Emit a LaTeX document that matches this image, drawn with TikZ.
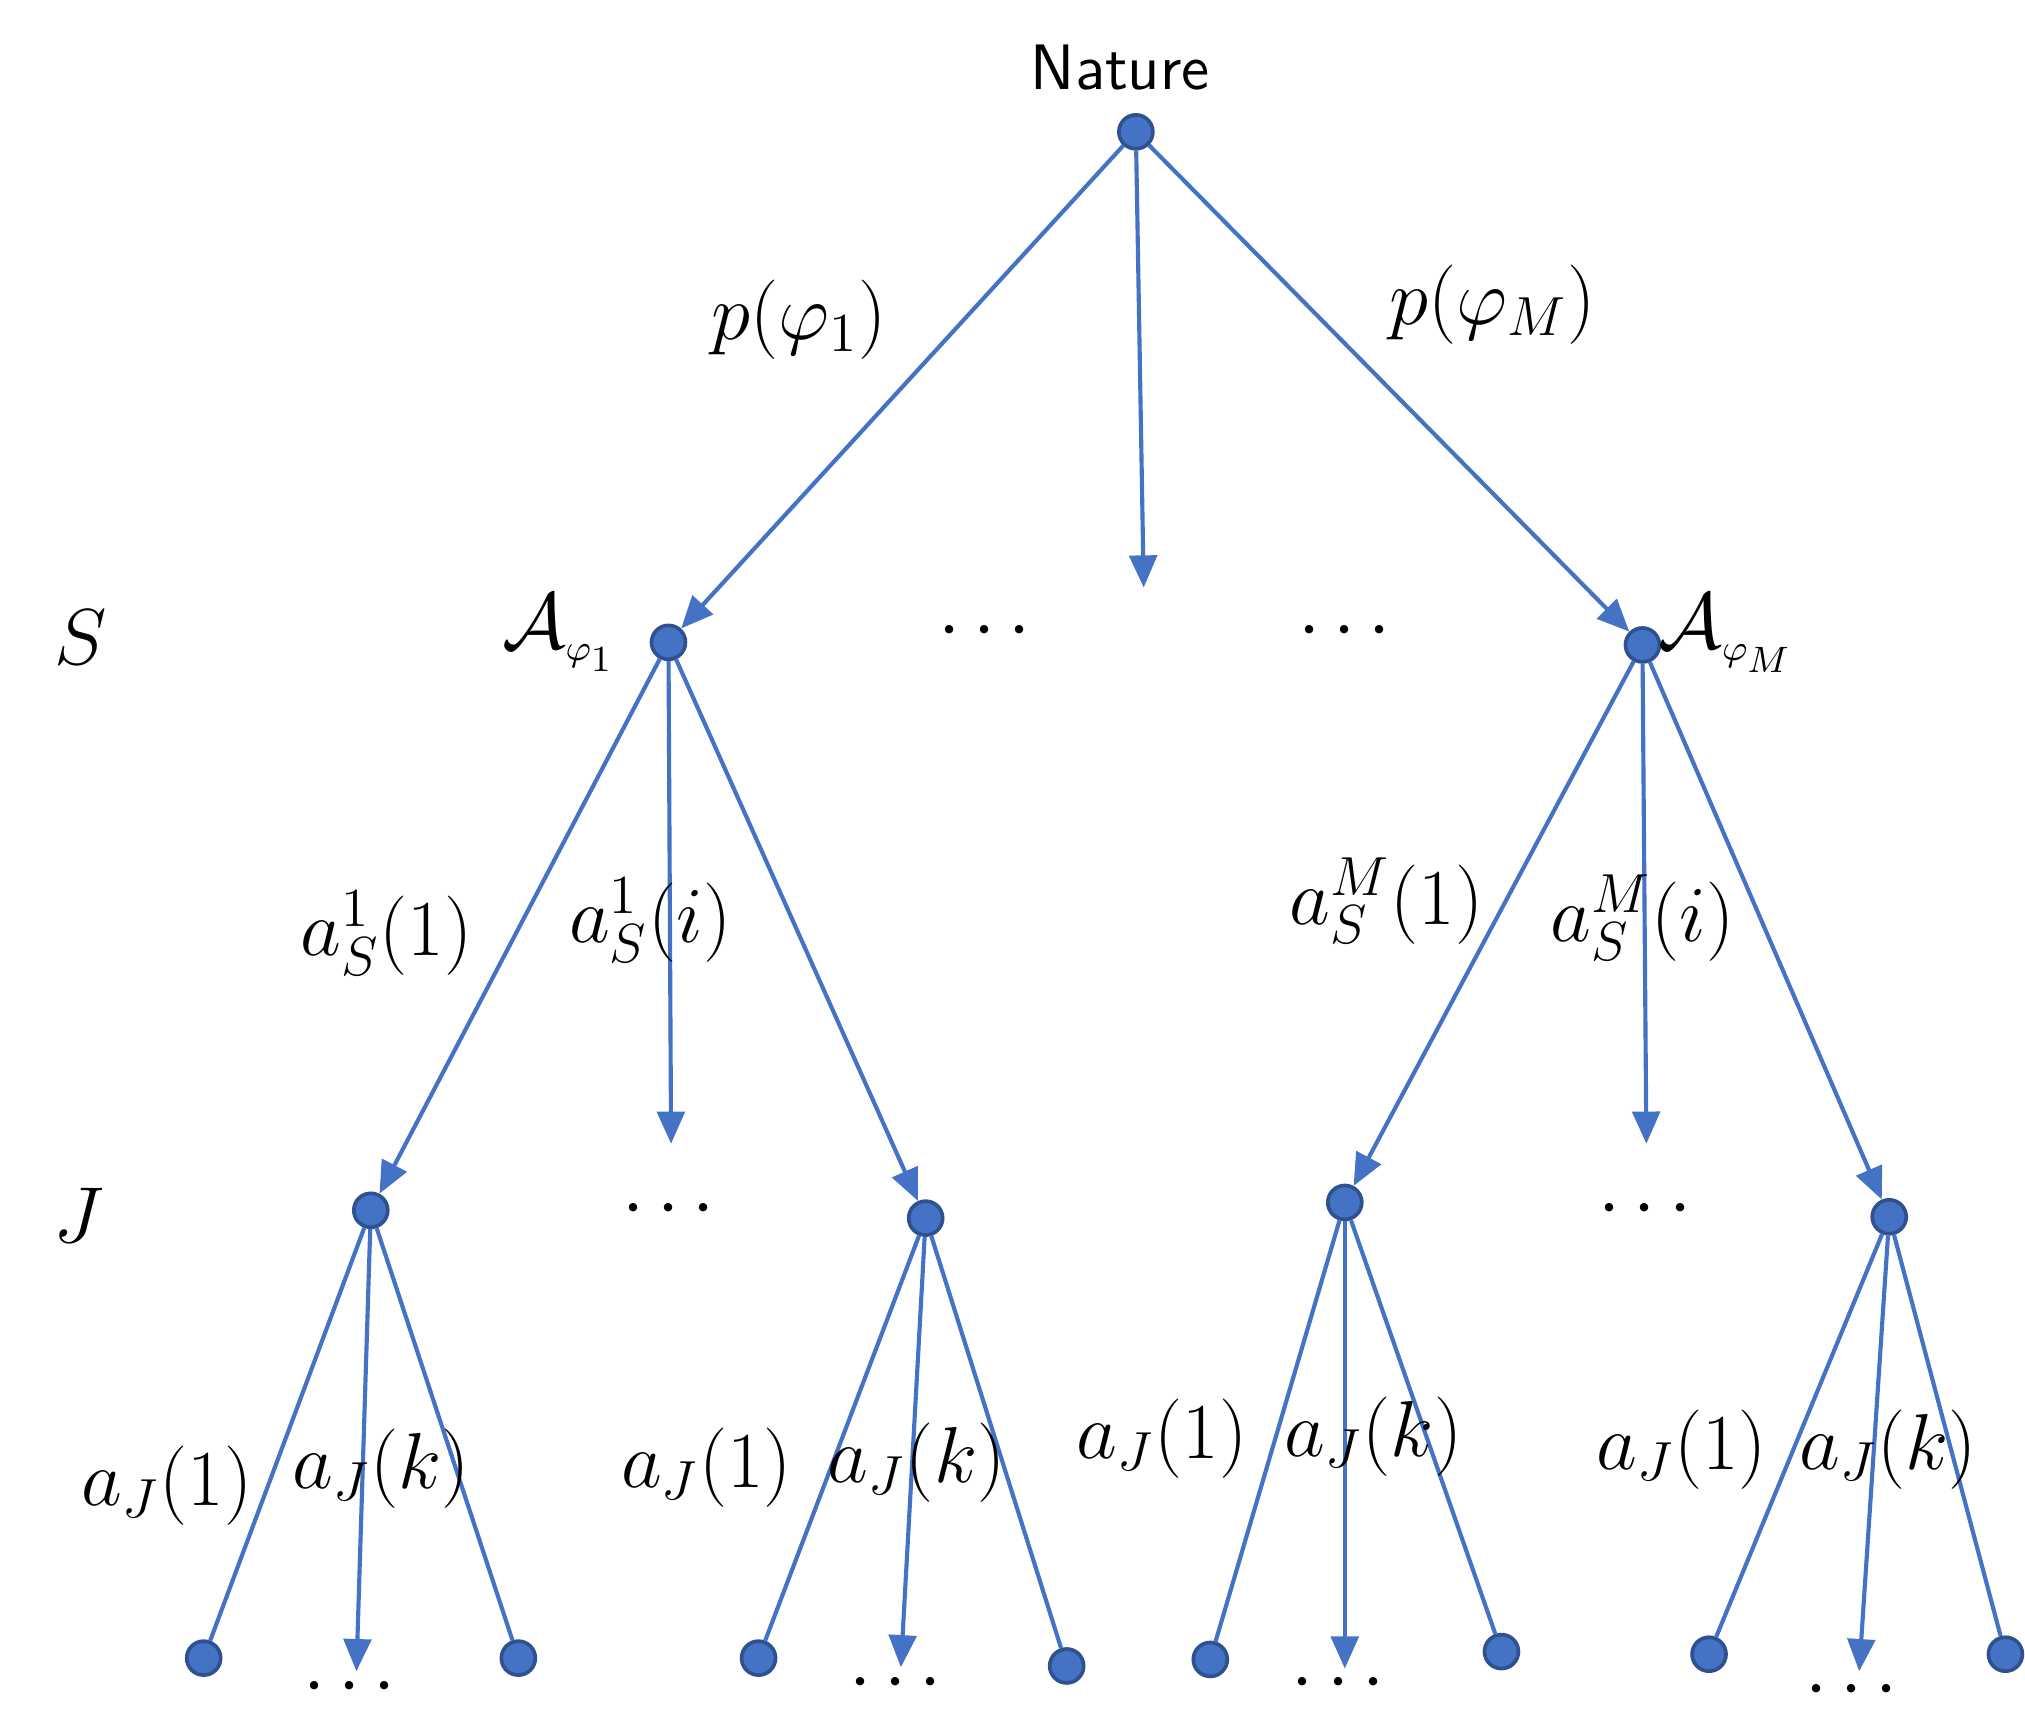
\documentclass[tikz,border=0pt]{standalone}
\usepackage{fontspec}
\usetikzlibrary{arrows.meta}
\begin{document}
\begin{tikzpicture}[x=0.01cm,y=-0.01cm,
 dot/.style={circle,fill={rgb,255:red,68;green,114;blue,196},draw={rgb,255:red,47;green,82;blue,143},line width=0.8pt,minimum size=0.26cm,inner sep=0pt},
 e/.style={draw={rgb,255:red,68;green,114;blue,196},line width=0.9pt},
 a/.style={e,-{Triangle[length=7pt,width=6pt]}},
 lab/.style={font=\fontsize{18}{22}\selectfont},
 dd/.style={font=\fontsize{16}{20}\selectfont}]
\useasboundingbox (0,0) rectangle (1551,1328);
\node[font=\fontfamily{lmss}\fontsize{14}{16}\selectfont] (nat) at (858,52) {Nature};
\node[dot] (N) at (870,101) {};
\node[dot] (A1) at (512,492) {};
\node[dot] (AM) at (1258,494) {};
\coordinate (Nm) at (876,450);
\draw[a] (N) -- (A1);
\draw[a] (N) -- (Nm);
\draw[a] (N) -- (AM);
\node[lab] (p1) at (612,245) {$p(\varphi_1)$};
\node[lab] (pM) at (1143,233) {$p(\varphi_M)$};
\node[lab] (S) at (62,488) {$S$};
\node[lab] (J) at (60,931) {$J$};
\node[font=\fontsize{16}{20}\selectfont] (LA1) at (428,485) {$\mathcal{A}_{\scriptscriptstyle\varphi_1}$};
\node[font=\fontsize{16}{20}\selectfont] (LAM) at (1322,485) {$\mathcal{A}_{\scriptscriptstyle\varphi_M}$};
\node[dd] (d1) at (754,484) {$\cdots$};
\node[dd] (d2) at (1030,484) {$\cdots$};
\node[dot] (J1) at (284,927) {};
\node[dot] (J2) at (709,933) {};
\node[dot] (J3) at (1030,921) {};
\node[dot] (J4) at (1447,932) {};
\coordinate (m1) at (514,876);
\coordinate (m2) at (1261,876);
\draw[a] (A1) -- (J1); \draw[a] (A1) -- (m1); \draw[a] (A1) -- (J2);
\draw[a] (AM) -- (J3); \draw[a] (AM) -- (m2); \draw[a] (AM) -- (J4);
\node[dd] (d3) at (512,927) {$\cdots$};
\node[dd] (d4) at (1260,927) {$\cdots$};
\node[lab] (l1) at (296,715) {$a_S^1(1)$};
\node[lab] (l2) at (498,705) {$a_S^1(i)$};
\node[lab] (l3) at (1062,690) {$a_S^M(1)$};
\node[lab] (l4) at (1258,703) {$a_S^M(i)$};
\foreach \J/\L/\M/\R/\n in {J1/{156,1270}/{273,1280}/{397,1270}/1,J2/{581,1270}/{690,1277}/{817,1276}/2,J3/{927,1271}/{1030,1278}/{1150,1265}/3,J4/{1309,1267}/{1424,1280}/{1536,1267}/4}{
 \node[dot] (L\n) at (\L) {};
 \node[dot] (R\n) at (\R) {};
 \coordinate (M\n) at (\M);
 \draw[e] (\J) -- (L\n);
 \draw[a] (\J) -- (M\n);
 \draw[e] (\J) -- (R\n);
}
\node[dd] (e1) at (268,1293) {$\cdots$};
\node[dd] (e2) at (686,1290) {$\cdots$};
\node[dd] (e3) at (1025,1290) {$\cdots$};
\node[dd] (e4) at (1418,1295) {$\cdots$};
\node[lab] (k1) at (128,1138) {$a_J(1)$};
\node[lab] (k2) at (292,1125) {$a_J(k)$};
\node[lab] (k3) at (541,1124) {$a_J(1)$};
\node[lab] (k4) at (702,1120) {$a_J(k)$};
\node[lab] (k5) at (890,1102) {$a_J(1)$};
\node[lab] (k6) at (1052,1100) {$a_J(k)$};
\node[lab] (k7) at (1288,1110) {$a_J(1)$};
\node[lab] (k8) at (1446,1110) {$a_J(k)$};
\end{tikzpicture}
\end{document}
